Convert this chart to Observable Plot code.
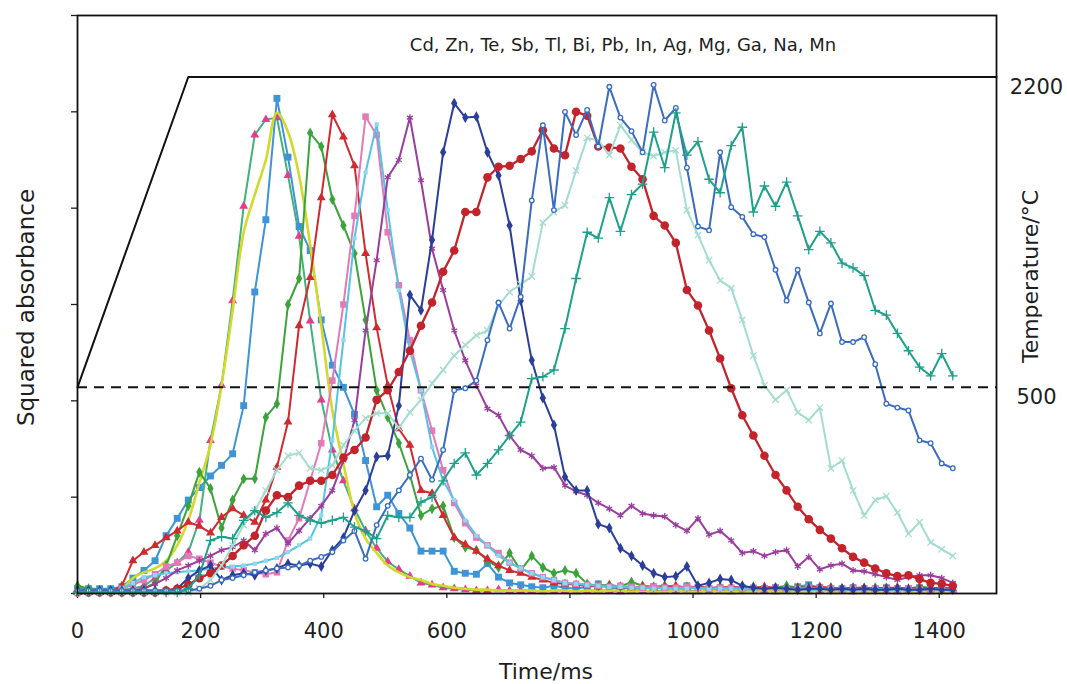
<!DOCTYPE html>
<html>
<head>
<meta charset="utf-8">
<script src="https://cdn.jsdelivr.net/npm/d3@7"></script>
<script src="https://cdn.jsdelivr.net/npm/@observablehq/plot@0.6"></script>
<style>
  html, body { margin: 0; padding: 0; background: #fff; }
</style>
</head>
<body>
<div id="chart"></div>
<script>
// Sampling times (ms) shared by every absorbance profile
const times = [0,18,36,54,72,90,108,126,144,162,180,198,216,234,252,270,288,306,324,342,
  360,378,396,414,432,450,468,486,504,522,540,558,576,594,612,630,648,666,684,702,
  720,738,756,774,792,810,828,846,864,882,900,918,936,954,972,990,1008,1026,1044,1062,
  1080,1098,1116,1134,1152,1170,1188,1206,1224,1242,1260,1278,1296,1314,1332,1350,1368,1386,1404,1422];

const elements = ["Cd", "Zn", "Te", "Sb", "Tl", "Bi", "Pb", "In", "Ag", "Mg", "Ga", "Na", "Mn"];

// Squared absorbance profiles, one per element
const cd = [.003,.003,.003,.003,.004,.005,.008,.016,.024,.032,
  .043,.076,.159,.216,.304,.402,.476,.492,.494,.434,
  .371,.283,.201,.149,.117,.088,.065,.047,.033,.025,
  .018,.011,.009,.006,.005,.004,.003,.003,.004,.003,
  .003,.003,.002,.003,.003,.002,.003,.003,.003,.002,
  .003,.003,.002,.003,.003,.003,.002,.003,.003,.002,
  .003,.003,.003,.002,.003,.003,.002,.003,.003,.003,
  .002,.003,.003,.003,.002,.003,.003,.002,.003,.003];
const zn = [.005,.005,.005,.005,.007,.016,.024,.034,.060,.078,
  .097,.110,.122,.133,.145,.195,.313,.388,.514,.453,
  .381,.356,.284,.237,.214,.186,.138,.090,.102,.083,
  .068,.044,.044,.044,.023,.021,.020,.031,.017,.011,
  .009,.007,.006,.008,.006,.005,.007,.010,.006,.005,
  .006,.005,.007,.006,.005,.008,.006,.005,.006,.005,
  .006,.005,.005,.006,.005,.007,.009,.006,.005,.005,
  .006,.005,.005,.006,.005,.005,.006,.005,.005,.004];
const te = [.001,.001,.001,.002,.005,.016,.022,.026,.034,.050,
  .076,.115,.154,.216,.294,.375,.414,.450,.499,.479,
  .434,.362,.278,.190,.135,.084,.057,.042,.029,.022,
  .017,.014,.010,.008,.006,.005,.004,.004,.003,.003,
  .003,.003,.002,.003,.003,.002,.003,.002,.003,.003,
  .002,.003,.002,.002,.003,.002,.002,.003,.002,.002,
  .002,.002,.003,.002,.002,.002,.002,.003,.002,.002,
  .002,.002,.002,.002,.003,.002,.002,.002,.002,.002];
const sb = [.008,.005,.003,.003,.003,.003,.005,.011,.029,.060,
  .091,.126,.109,.068,.097,.119,.119,.183,.197,.300,
  .327,.478,.464,.409,.382,.353,.284,.211,.183,.156,
  .123,.081,.088,.091,.058,.048,.045,.034,.027,.042,
  .024,.039,.027,.021,.024,.021,.010,.008,.009,.007,
  .012,.008,.007,.008,.006,.007,.006,.005,.007,.006,
  .006,.007,.005,.006,.008,.006,.007,.005,.006,.005,
  .006,.005,.006,.005,.006,.005,.007,.006,.005,.006];
const tl = [.001,.001,.001,.001,.008,.034,.043,.050,.058,.065,
  .074,.070,.063,.079,.088,.081,.074,.097,.131,.178,
  .278,.328,.411,.497,.474,.444,.353,.276,.216,.171,
  .154,.107,.104,.081,.058,.051,.044,.036,.029,.024,
  .021,.017,.014,.011,.010,.009,.008,.007,.008,.007,
  .006,.007,.006,.007,.008,.006,.007,.006,.006,.007,
  .006,.006,.007,.006,.005,.006,.006,.007,.006,.005,
  .006,.006,.005,.006,.006,.005,.006,.005,.006,.005];
const bi = [.001,.001,.001,.001,.005,.009,.014,.020,.028,.032,
  .039,.036,.032,.028,.026,.024,.022,.020,.022,.055,
  .078,.117,.156,.221,.300,.392,.495,.476,.375,.320,
  .263,.211,.169,.128,.094,.073,.058,.050,.042,.032,
  .026,.021,.017,.014,.011,.010,.009,.008,.007,.008,
  .007,.006,.007,.006,.006,.007,.006,.005,.006,.006,
  .005,.006,.005,.006,.005,.005,.006,.005,.005,.004,
  .005,.004,.005,.004,.004,.005,.004,.004,.005,.004];
const pb = [.001,.001,.001,.001,.005,.011,.017,.019,.021,.022,
  .023,.024,.026,.027,.028,.029,.031,.034,.037,.043,
  .050,.057,.081,.159,.263,.369,.437,.487,.398,.315,
  .252,.211,.152,.117,.097,.076,.060,.050,.039,.032,
  .026,.021,.017,.014,.011,.010,.009,.008,.007,.007,
  .006,.006,.005,.006,.005,.005,.006,.005,.005,.005,
  .005,.004,.005,.005,.004,.005,.004,.004,.005,.004,
  .004,.004,.005,.004,.004,.004,.004,.005,.004,.004];
const inn = [.001,.001,.001,.001,.001,.003,.005,.010,.016,.024,
  .029,.034,.039,.045,.048,.055,.045,.062,.068,.052,
  .065,.078,.091,.107,.138,.180,.273,.346,.432,.450,
  .494,.429,.358,.315,.273,.242,.216,.192,.185,.164,
  .149,.143,.130,.131,.112,.106,.102,.094,.088,.081,
  .091,.083,.081,.080,.071,.065,.078,.061,.065,.055,
  .042,.044,.039,.043,.045,.028,.038,.025,.029,.031,
  .024,.023,.020,.017,.014,.017,.019,.019,.016,.011];
const ag = [.003,.003,.003,.003,.003,.003,.003,.003,.003,.005,
  .016,.024,.029,.014,.019,.021,.019,.024,.026,.031,
  .029,.031,.028,.045,.058,.086,.107,.142,.143,.195,
  .310,.294,.367,.458,.509,.494,.495,.458,.434,.382,
  .304,.242,.203,.175,.121,.107,.107,.072,.068,.047,
  .039,.029,.021,.017,.018,.028,.008,.011,.015,.014,
  .008,.006,.005,.006,.005,.004,.005,.005,.004,.005,
  .004,.005,.004,.004,.005,.004,.004,.005,.004,.004];
const mg = [.001,.001,.001,.001,.001,.001,.001,.001,.003,.005,
  .009,.016,.021,.029,.039,.050,.060,.086,.102,.100,
  .112,.117,.117,.123,.141,.149,.162,.201,.211,.230,
  .252,.278,.302,.334,.356,.396,.396,.432,.443,.444,
  .451,.459,.481,.462,.455,.500,.496,.464,.463,.462,
  .443,.430,.392,.382,.364,.315,.299,.273,.244,.213,
  .185,.164,.143,.123,.107,.090,.077,.066,.057,.047,
  .038,.032,.026,.021,.018,.019,.015,.011,.010,.008];
const ga = [.001,.001,.001,.001,.001,.001,.001,.001,.001,.001,
  .001,.005,.014,.029,.050,.071,.086,.107,.128,.143,
  .146,.130,.128,.133,.154,.169,.182,.187,.187,.172,
  .188,.201,.218,.232,.247,.258,.268,.273,.299,.313,
  .321,.329,.385,.396,.403,.439,.473,.470,.455,.486,
  .471,.458,.454,.458,.460,.398,.372,.346,.325,.317,
  .284,.247,.216,.201,.211,.188,.180,.193,.130,.138,
  .107,.081,.097,.101,.084,.062,.074,.053,.046,.039];
const na = [.003,.003,.003,.003,.003,.003,.003,.003,.003,.003,
  .003,.005,.008,.014,.016,.019,.022,.024,.026,.027,
  .029,.034,.038,.043,.055,.065,.036,.071,.091,.107,
  .123,.140,.118,.149,.211,.213,.221,.263,.302,.275,
  .308,.408,.486,.398,.500,.476,.502,.464,.526,.494,
  .480,.458,.528,.491,.504,.442,.381,.377,.458,.401,
  .391,.373,.370,.336,.304,.336,.302,.270,.301,.261,
  .261,.266,.238,.197,.193,.190,.159,.156,.135,.130];
const mn = [.001,.001,.001,.001,.001,.001,.001,.001,.001,.001,
  .005,.019,.055,.059,.057,.076,.086,.079,.084,.094,
  .081,.076,.073,.076,.079,.069,.065,.057,.081,.079,
  .079,.095,.100,.117,.135,.146,.123,.135,.149,.164,
  .178,.223,.225,.232,.275,.327,.375,.369,.411,.376,
  .414,.425,.479,.442,.499,.455,.469,.430,.416,.465,
  .484,.396,.423,.402,.427,.392,.357,.376,.364,.343,
  .338,.330,.294,.289,.270,.252,.235,.226,.249,.226];

// Furnace temperature programme (ms, °C)
const tempTimes = [0, 180, 1493];
const tempValues = [500, 2200, 2200];
const tempTicks = [500, 2200];

const xTicks = [0, 200, 400, 600, 800, 1000, 1200, 1400];
const yTicks = [0, 0.1, 0.2, 0.3, 0.4, 0.5, 0.6];

const xTitle = "Time/ms";
const yTitle = "Squared absorbance";
const tTitle = "Temperature/°C";

// The temperature axis is laid over the absorbance scale by a linear map
const tempToAbs = T => 0.214 + (T - 500) * 0.0001895;

const profiles = [cd, zn, te, sb, tl, bi, pb, inn, ag, mg, ga, na, mn];

// Line colour, marker colour and marker shape for each element
const looks = [
  {line: "#43b17a", mark: "#e33d92", symbol: "triangle", r: 3.3, kind: "fill"},
  {line: "#3d94d6", mark: "#3d94d6", symbol: "square", r: 3.9, kind: "fill"},
  {line: "#d3d92a", curve: "catmull-rom", width: 2.6},
  {line: "#3aa33a", mark: "#3aa33a", symbol: "diamond", r: 3.3, kind: "fill"},
  {line: "#d02a30", mark: "#d02a30", symbol: "triangle", r: 3.3, kind: "fill"},
  {line: "#e27ab8", mark: "#e27ab8", symbol: "square", r: 3.7, kind: "fill"},
  {line: "#55c3e6", mark: "#8fd8ee", symbol: "square", r: 2.4, kind: "fill"},
  {line: "#9a3d9e", mark: "#9a3d9e", symbol: "asterisk", r: 3.2, kind: "stroke"},
  {line: "#2a3e9a", mark: "#2a3e9a", symbol: "diamond", r: 3.3, kind: "fill"},
  {line: "#c3242c", mark: "#c3242c", symbol: "circle", r: 4.3, kind: "fill", width: 2.3},
  {line: "#a4dccf", mark: "#a4dccf", symbol: "times", r: 3, kind: "stroke"},
  {line: "#3a6cc0", mark: "#3a6cc0", symbol: "circle", r: 2.3, kind: "open"},
  {line: "#1ea08a", mark: "#1ea08a", symbol: "plus", r: 3.2, kind: "stroke"}
];

const seriesMarks = profiles.flatMap((vals, k) => {
  const look = looks[k];
  const data = times.map((t, i) => ({t, v: vals[i], element: elements[k]}));
  const out = [Plot.line(data, {
    x: "t", y: "v", stroke: look.line, strokeWidth: look.width ?? 2,
    curve: look.curve ?? "linear"
  })];
  if (look.symbol) {
    const style = look.kind === "fill" ? {fill: look.mark, stroke: "none"}
      : look.kind === "open" ? {fill: "white", stroke: look.mark, strokeWidth: 1.3}
      : {fill: "none", stroke: look.mark, strokeWidth: 1.3};
    out.push(Plot.dot(data, {x: "t", y: "v", symbol: look.symbol, r: look.r, ...style}));
  }
  return out;
});

const tempData = tempTimes.map((t, i) => ({t, T: tempValues[i]}));

const chart = Plot.plot({
  width: 1067,
  height: 684,
  marginLeft: 77,
  marginRight: 71,
  marginTop: 15,
  marginBottom: 91,
  style: {fontFamily: "DejaVu Sans, Liberation Sans, sans-serif", fontSize: "21px", color: "#1e1e1e", background: "#fff"},
  x: {domain: [0, 1493]},
  y: {domain: [0, 0.6]},
  marks: [
    Plot.axisX({ticks: xTicks, tickSize: 5, tickPadding: 25, tickFormat: d => String(d), label: null, fontSize: 21, strokeWidth: 1.3}),
    Plot.axisY({ticks: yTicks, tickSize: 6, tickFormat: () => "", label: null, strokeWidth: 1.3}),
    ...seriesMarks,
    // temperature programme and its 500 °C reference
    Plot.ruleY(tempTicks.slice(0, 1), {y: tempToAbs, stroke: "#111", strokeWidth: 2, strokeDasharray: "10,7"}),
    Plot.line(tempData, {x: "t", y: d => tempToAbs(d.T), stroke: "#111", strokeWidth: 2}),
    Plot.frame({stroke: "#111", strokeWidth: 1.8}),
    // right-hand temperature labels
    Plot.text(tempTicks, {y: tempToAbs, text: d => String(d), frameAnchor: "right", dx: 40, dy: 10, fontSize: 21, textAnchor: "middle", lineAnchor: "middle"}),
    Plot.text([tTitle], {text: d => d, frameAnchor: "right", rotate: -90, dx: 34, dy: -28, fontSize: 22, textAnchor: "middle", lineAnchor: "middle"}),
    Plot.text([yTitle], {text: d => d, frameAnchor: "left", rotate: -90, dx: -51, dy: 3, fontSize: 23, textAnchor: "middle", lineAnchor: "middle"}),
    Plot.text([xTitle], {text: d => d, frameAnchor: "bottom", dx: 9, dy: 78, fontSize: 22, textAnchor: "middle", lineAnchor: "middle"}),
    Plot.text([elements.join(", ")], {text: d => d, frameAnchor: "top", dx: 86, dy: 30, fontSize: 18, textAnchor: "middle", lineAnchor: "middle"})
  ]
});

document.getElementById("chart").appendChild(chart);
</script>
</body>
</html>
